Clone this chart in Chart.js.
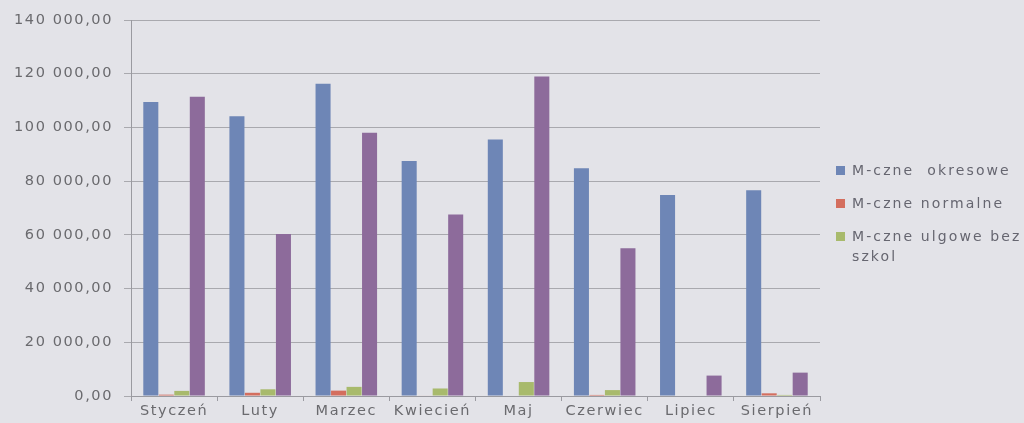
<!DOCTYPE html>
<html>
<head>
<meta charset="utf-8">
<script src="https://cdn.jsdelivr.net/npm/chart.js@4"></script>
<style>
  html, body { margin: 0; padding: 0; background: #e3e3e8; }
  #wrap { position: relative; width: 1024px; height: 423px; overflow: hidden; }
  #legend {
    position: absolute; left: 834px; top: 160px; width: 260px;
    font-family: "DejaVu Sans", sans-serif; font-size: 14px; letter-spacing: 2.1px;
    color: #666670; line-height: 20px; white-space: nowrap;
  }
  .item { position: relative; padding-left: 18px; margin-bottom: 13px; }
  .sw { position: absolute; left: 2px; top: 6px; width: 9px; height: 9px; }
</style>
</head>
<body>
<div id="wrap">
  <canvas id="c" width="1024" height="423"></canvas>
  <div id="legend"></div>
</div>
<script>
// Monthly ticket revenue by type
const months = ["Styczeń", "Luty", "Marzec", "Kwiecień", "Maj", "Czerwiec", "Lipiec", "Sierpień"];
const okresowe = [109500, 104200, 116300, 87500, 95500, 84800, 74800, 76600];
const normalne = [500, 1200, 2000, 200, 0, 400, 0, 1000];
const ulgowe = [1900, 2500, 3400, 2800, 5200, 2200, 0, 400];
const szkolne = [111400, 60300, 98000, 67600, 119000, 55000, 7600, 8700];
const seriesNames = ["M-czne  okresowe", "M-czne normalne", "M-czne ulgowe bez szkol", "M-czne ulgowe szkolne"];
const seriesColors = ["#6e86b6", "#d46e5e", "#a8ba6c", "#8d6b9b"];
const yTicks = [0, 20000, 40000, 60000, 80000, 100000, 120000, 140000];

function plNumber(v) {
  const parts = v.toFixed(2).split(".");
  const intPart = parts[0].replace(/\B(?=(\d{3})+(?!\d))/g, " ");
  return intPart + "," + parts[1];
}

const values = [okresowe, normalne, ulgowe, szkolne];
const datasets = values.map((d, i) => ({
  label: seriesNames[i],
  data: d,
  backgroundColor: seriesColors[i],
  borderWidth: 0,
  categoryPercentage: 0.72,
  barPercentage: 0.97
}));

// Legend lists the first three series
const legendEl = document.getElementById("legend");
seriesNames.slice(0, 3).forEach((name, i) => {
  const div = document.createElement("div");
  div.className = "item";
  div.innerHTML = '<span class="sw" style="background:' + seriesColors[i] + '"></span>' +
    name.replace(/ /g, "&nbsp;").replace("bez&nbsp;szkol", "bez<br>szkol");
  legendEl.appendChild(div);
});

const spacing = {
  id: "spacing",
  beforeInit(chart) { chart.ctx.letterSpacing = "1.6px"; },
  beforeDraw(chart) { chart.ctx.letterSpacing = "1.6px"; }
};

const textColor = "#6a6a6e";
const font = { family: "DejaVu Sans", size: 14.5 };

new Chart(document.getElementById("c"), {
  type: "bar",
  data: { labels: months, datasets },
  plugins: [spacing],
  options: {
    responsive: false,
    animation: false,
    layout: { padding: { top: 20, right: 204, bottom: 0, left: 0 } },
    plugins: { legend: { display: false }, tooltip: { enabled: false } },
    scales: {
      x: {
        grid: { offset: true, drawOnChartArea: false, color: "#9a9aa0", tickLength: 5 },
        border: { color: "#9a9aa0" },
        ticks: { color: textColor, font, padding: 2, maxRotation: 0, autoSkip: false },
        afterFit(s) { s.height = 27; }
      },
      y: {
        min: 0, max: 140000,
        afterBuildTicks(s) { s.ticks = yTicks.map(v => ({ value: v })); },
        grid: { color: "#a9a9ae", tickLength: 7 },
        border: { color: "#9a9aa0" },
        ticks: { color: textColor, font, padding: 11, callback: v => plNumber(v) },
        afterFit(s) { s.width = 131; }
      }
    }
  }
});
</script>
</body>
</html>
